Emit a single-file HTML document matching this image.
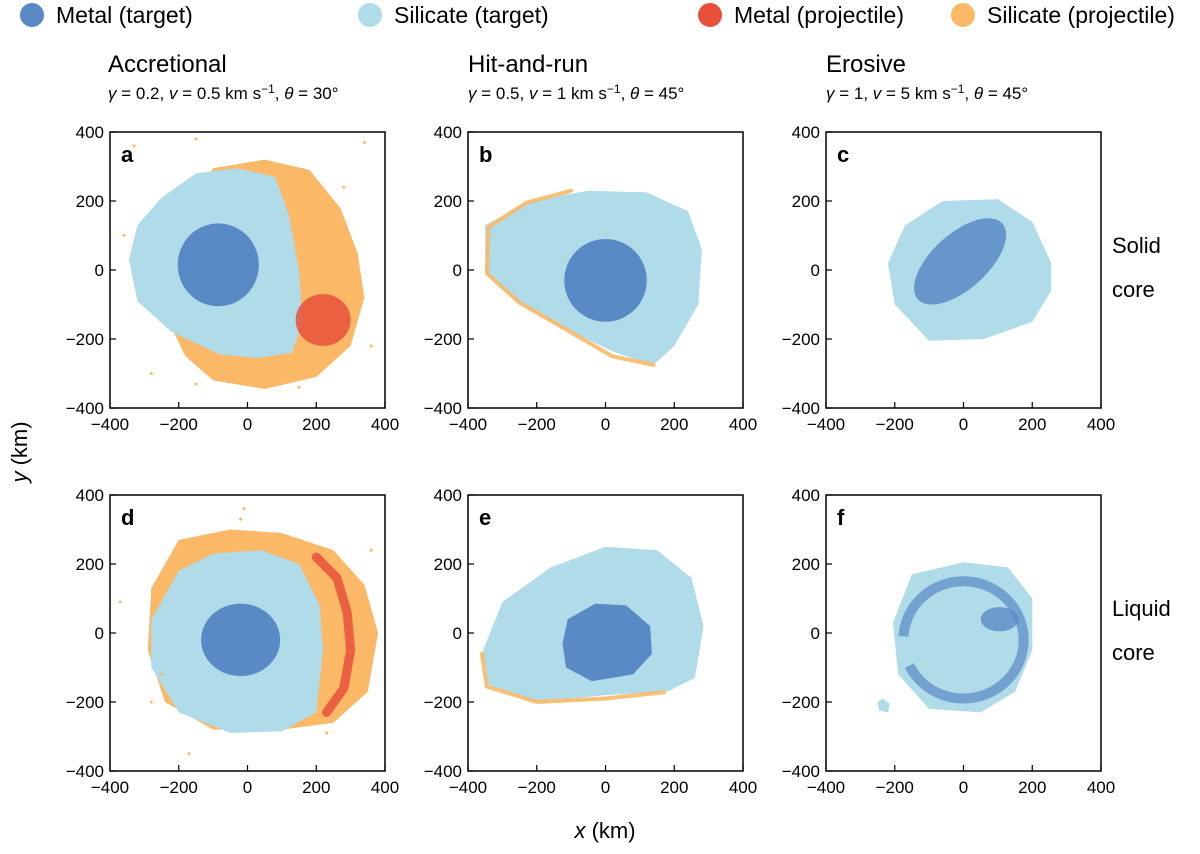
<!DOCTYPE html>
<html><head><meta charset="utf-8">
<style>
body{margin:0;background:#fff;}
svg{display:block;font-family:"Liberation Sans",sans-serif;}
</style></head>
<body>
<svg id="chart" width="1200" height="854" viewBox="0 0 1200 854" xmlns="http://www.w3.org/2000/svg">
<g font-size="23" fill="#000">
  <circle cx="32" cy="15" r="12" fill="#5a8ac6"/>
  <text x="56" y="23">Metal (target)</text>
  <circle cx="370" cy="15" r="12" fill="#b0dbe8"/>
  <text x="394" y="23">Silicate (target)</text>
  <circle cx="710" cy="15" r="12" fill="#e8503a"/>
  <text x="734" y="23">Metal (projectile)</text>
  <circle cx="963" cy="15" r="12" fill="#fbb867"/>
  <text x="987" y="23">Silicate (projectile)</text>
</g>
<g fill="#000">
  <text x="108" y="72" font-size="24">Accretional</text>
  <text x="108" y="99" font-size="17"><tspan font-style="italic">γ</tspan> = 0.2, <tspan font-style="italic">v</tspan> = 0.5 km s<tspan dy="-6" font-size="12">−1</tspan><tspan dy="6">, </tspan><tspan font-style="italic">θ</tspan> = 30°</text>
  <text x="468" y="72" font-size="24">Hit-and-run</text>
  <text x="468" y="99" font-size="17"><tspan font-style="italic">γ</tspan> = 0.5, <tspan font-style="italic">v</tspan> = 1 km s<tspan dy="-6" font-size="12">−1</tspan><tspan dy="6">, </tspan><tspan font-style="italic">θ</tspan> = 45°</text>
  <text x="826" y="72" font-size="24">Erosive</text>
  <text x="826" y="99" font-size="17"><tspan font-style="italic">γ</tspan> = 1, <tspan font-style="italic">v</tspan> = 5 km s<tspan dy="-6" font-size="12">−1</tspan><tspan dy="6">, </tspan><tspan font-style="italic">θ</tspan> = 45°</text>
</g>
<g font-size="22" fill="#000">
  <text x="1112" y="253">Solid</text>
  <text x="1112" y="297">core</text>
  <text x="1112" y="616">Liquid</text>
  <text x="1112" y="660">core</text>
</g>
<text x="0" y="0" font-size="22" transform="translate(27,452) rotate(-90)" text-anchor="middle"><tspan font-style="italic">y</tspan> (km)</text>
<text x="605" y="838" font-size="22" text-anchor="middle"><tspan font-style="italic">x</tspan> (km)</text>
<g id="panels"></g>
</svg>
<script>
// axis ticks
const xTicks = [-400,-200,0,200,400];
const yTicks = [-400,-200,0,200,400];
const panelLetters = ['a','b','c','d','e','f'];
// shape data (km)
const aSilProj = [[-100,295],[50,320],[180,290],[270,180],[320,50],[340,-80],[300,-220],[200,-310],[50,-345],[-100,-320],[-180,-250],[-230,-150],[-200,150]];
const aSilTarg = [[-250,210],[-150,280],[-30,295],[80,270],[120,160],[150,0],[160,-150],[130,-240],[30,-255],[-80,-245],[-220,-180],[-320,-90],[-345,30],[-320,130]];
const aMetTarg = {cx:-85, cy:15, rx:118, ry:120};
const aMetProj = {cx:220, cy:-145, rx:80, ry:75};
const aStray = [[-330,360],[-150,380],[340,370],[360,-220],[-280,-300],[-150,-330],[150,-340],[280,240],[-360,100]];
const bSilTarg = [[-350,130],[-220,200],[-50,230],[120,225],[240,170],[280,60],[270,-100],[200,-220],[140,-275],[30,-240],[-120,-170],[-260,-90],[-350,-10]];
const bSilProjRim = [[-100,230],[-230,195],[-340,125],[-345,-10],[-250,-95],[-110,-175],[20,-250],[140,-275]];
const bMetTarg = {cx:0, cy:-30, rx:120, ry:120};
const cSilTarg = [[-170,130],[-60,200],[100,205],[200,140],[255,20],[255,-60],[200,-150],[60,-200],[-100,-205],[-200,-100],[-220,20]];
const cMetTarg = {cx:-10, cy:25, rx:165, ry:80, rot:-42};
const dSilProj = [[-200,270],[-50,300],[100,290],[250,240],[340,140],[380,0],[350,-170],[250,-260],[100,-280],[-100,-280],[-240,-200],[-290,-50],[-280,130]];
const dSilTarg = [[-200,180],[-100,230],[40,240],[150,200],[210,80],[220,-50],[200,-230],[100,-285],[-50,-290],[-200,-230],[-280,-100],[-280,40]];
const dMetTarg = {cx:-20, cy:-20, rx:115, ry:105};
const dMetProjArc = [[200,220],[260,160],[290,60],[300,-50],[280,-160],[230,-230]];
const dStray = [[-10,360],[-20,330],[-170,-350],[230,-290],[360,240],[-370,90],[-250,-120],[-280,-200]];
const eSilTarg = [[-360,-60],[-300,90],[-160,190],[0,250],[150,240],[250,160],[285,20],[260,-130],[180,-170],[0,-180],[-200,-200],[-340,-150]];
const eSilProjRim = [[-360,-60],[-345,-155],[-200,-200],[0,-190],[170,-172]];
const eMetTarg = [[-110,40],[-30,85],[60,80],[130,20],[135,-60],[80,-120],[-40,-140],[-115,-100],[-125,-30]];
const fSilTarg = [[-150,170],[0,205],[130,190],[200,100],[200,-50],[150,-170],[50,-230],[-100,-220],[-190,-120],[-205,30]];
const fMetRing = {cx:0, cy:-20, rx:175, ry:170};
const fMetKnot = {cx:105, cy:40, rx:55, ry:35};
const fSilFrag = [[-250,-200],[-235,-190],[-215,-205],[-220,-230],[-245,-225]];

const C = {mt:'#5a8ac6', st:'#b0dbe8', mp:'#e8503a', sp:'#fbb867'};
const NS='http://www.w3.org/2000/svg';
const panelsEl=document.getElementById('panels');
const boxes=[[110,132],[468,132],[826,132],[110,495],[468,495],[826,495]];
const W=275,H=276;
function sx(p,x){return boxes[p][0]+(x+400)/800*W;}
function sy(p,y){return boxes[p][1]+(400-y)/800*H;}
function mk(tag,attrs,parent){const e=document.createElementNS(NS,tag);for(const k in attrs)e.setAttribute(k,attrs[k]);parent.appendChild(e);return e;}
function pathD(p,pts){return pts.map((q,i)=>(i?'L':'M')+sx(p,q[0]).toFixed(1)+','+sy(p,q[1]).toFixed(1)).join('');}
function poly(p,pts,fill,parent,name){
  const e=mk('path',{d:pathD(p,pts)+'Z',fill:fill,'stroke-linejoin':'round'},parent);
  
  
  return e;
}
function line(p,pts,color,w,parent,name,op){
  const e=mk('path',{d:pathD(p,pts),fill:'none',stroke:color,'stroke-width':w,'stroke-linejoin':'round','stroke-linecap':'round',opacity:op||1},parent);
  
  
  return e;
}
function ell(p,o,fill,parent,name,extra){
  const cx=sx(p,o.cx),cy=sy(p,o.cy),rx=o.rx/800*W,ry=o.ry/800*H;
  const e=mk('ellipse',Object.assign({cx:cx,cy:cy,rx:rx,ry:ry,fill:fill},extra||{}),parent);
  if(o.rot)e.setAttribute('transform','rotate('+o.rot+' '+cx+' '+cy+')');
  
  
  return e;
}
function dots(p,pts,fill,parent,name){
  pts.forEach(q=>{const e=mk('circle',{cx:sx(p,q[0]),cy:sy(p,q[1]),r:1.5,fill:fill},parent);
    
    });
}
for(let p=0;p<6;p++){
  const g=mk('g',{},panelsEl);
  
  
  const clipId='clip'+p;
  const cp=mk('clipPath',{id:clipId},g);mk('rect',{x:boxes[p][0],y:boxes[p][1],width:W,height:H},cp);
  const data=mk('g',{'clip-path':'url(#'+clipId+')'},g);
  
  
  if(p===0){poly(0,aSilProj,C.sp,data,'silicate-projectile');poly(0,aSilTarg,C.st,data,'silicate-target');ell(0,aMetTarg,C.mt,data,'metal-target');ell(0,aMetProj,C.mp,data,'metal-projectile',{opacity:0.85});dots(0,aStray,C.sp,data,'stray-particle');}
  if(p===1){poly(1,bSilTarg,C.st,data,'silicate-target');line(1,bSilProjRim,C.sp,4,data,'silicate-projectile-rim',0.9);ell(1,bMetTarg,C.mt,data,'metal-target');}
  if(p===2){poly(2,cSilTarg,C.st,data,'silicate-target');ell(2,cMetTarg,C.mt,data,'metal-target',{opacity:0.85});}
  if(p===3){poly(3,dSilProj,C.sp,data,'silicate-projectile');poly(3,dSilTarg,C.st,data,'silicate-target');ell(3,dMetTarg,C.mt,data,'metal-target');
    line(3,dMetProjArc,C.mp,9,data,'metal-projectile',0.85);
    dots(3,dStray,C.sp,data,'stray-particle');}
  if(p===4){poly(4,eSilTarg,C.st,data,'silicate-target');line(4,eSilProjRim,C.sp,4,data,'silicate-projectile-rim',0.9);poly(4,eMetTarg,C.mt,data,'metal-target');}
  if(p===5){poly(5,fSilTarg,C.st,data,'silicate-target');ell(5,fMetRing,'none',data,'metal-target-ring',{stroke:C.mt,'stroke-width':10,opacity:0.7,'stroke-dasharray':'160 30 200 90'});ell(5,fMetKnot,C.mt,data,'metal-target-clump',{opacity:0.8});poly(5,fSilFrag,C.st,data,'silicate-fragment');}
  const fr=mk('rect',{x:boxes[p][0],y:boxes[p][1],width:W,height:H,fill:'none',stroke:'#000','stroke-width':1.5},g);
  
  
  const lt=mk('text',{x:boxes[p][0]+11,y:boxes[p][1]+30,'font-size':22,'font-weight':'bold'},g);lt.textContent=panelLetters[p];
  
  
  xTicks.forEach(t=>{
    const x=sx(p,t),yb=boxes[p][1]+H;
    const tk=mk('line',{x1:x,x2:x,y1:yb,y2:yb-6,stroke:'#000','stroke-width':1.2},g);
    
    
    const tx=mk('text',{x:x,y:yb+22,'font-size':17,'text-anchor':'middle'},g);tx.textContent=t<0?'−'+(-t):t;
    
    
  });
  yTicks.forEach(t=>{
    const y=sy(p,t),xl=boxes[p][0];
    const tk=mk('line',{x1:xl,x2:xl+6,y1:y,y2:y,stroke:'#000','stroke-width':1.2},g);
    
    
    const tx=mk('text',{x:xl-6,y:y+6,'font-size':17,'text-anchor':'end'},g);tx.textContent=t<0?'−'+(-t):t;
    
    
  });
}
</script>
</body></html>
